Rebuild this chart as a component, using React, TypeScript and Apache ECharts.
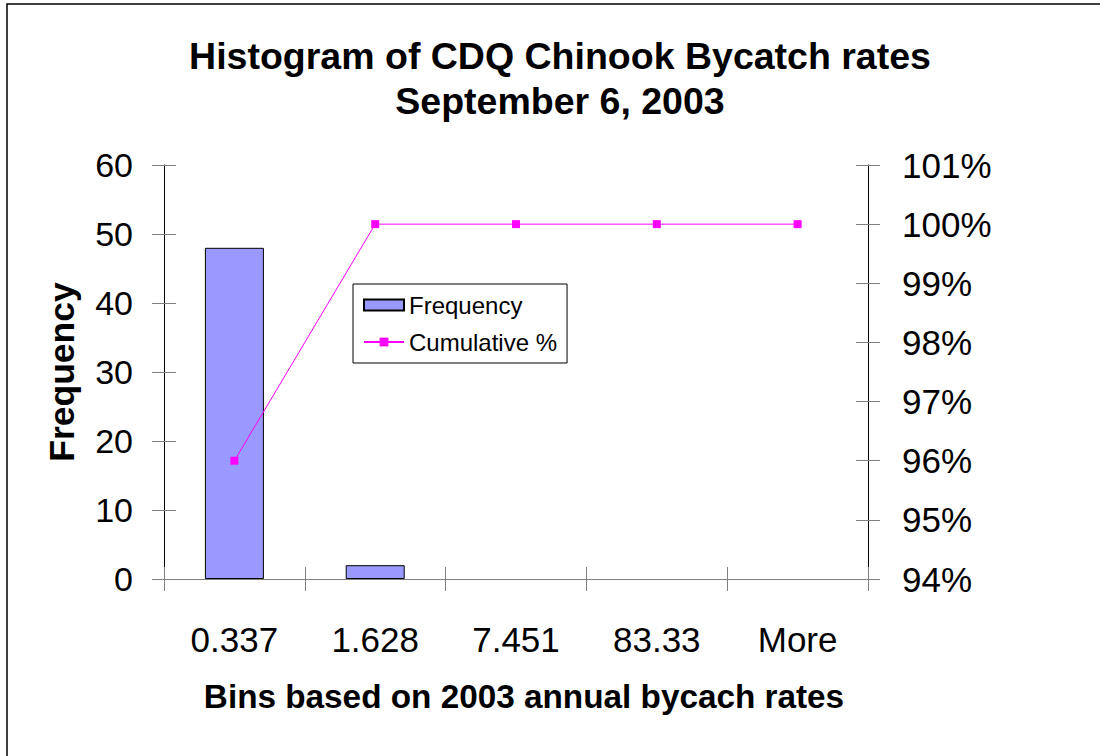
import React, { useEffect, useRef } from "react";
import * as echarts from "echarts";

const bins = ["0.337", "1.628", "7.451", "83.33", "More"];
const frequency = [48, 2, 0, 0, 0];
const cumulativePct = [96, 100, 100, 100, 100];
const titleText = "Histogram of CDQ Chinook Bycatch rates\nSeptember 6, 2003";
const xName = "Bins based on 2003 annual bycach rates";
const yName = "Frequency";

const FONT = 'Arial, "Liberation Sans", sans-serif';

export default function App() {
  const ref = useRef<HTMLDivElement>(null);
  useEffect(() => {
    if (!ref.current) return;
    const chart = echarts.init(ref.current, null, { renderer: "svg" });
    const tickGray = "#808080";
    const barData = frequency.map((v) =>
      v === 0 ? { value: v, itemStyle: { borderWidth: 0 } } : v
    );
    chart.setOption({
      animation: false,
      backgroundColor: "#ffffff",
      textStyle: { fontFamily: FONT },
      title: {
        text: titleText,
        left: 560,
        top: 33,
        padding: 0,
        textAlign: "center",
        textStyle: { fontFamily: FONT, fontSize: 37.5, fontWeight: "bold", color: "#000", lineHeight: 45 },
      },
      graphic: [
        {
          type: "rect",
          shape: { x: 7, y: 4, width: 1300, height: 1000 },
          style: { fill: "none", stroke: "#000", lineWidth: 1.5 },
          silent: true,
        },
      ],
      legend: {
        orient: "vertical",
        left: 353,
        top: 284,
        padding: [9, 10, 9, 10],
        itemGap: 13,
        itemWidth: 40,
        itemHeight: 11,
        borderColor: "#000",
        borderWidth: 1,
        backgroundColor: "#fff",
        textStyle: { fontFamily: FONT, fontSize: 24, color: "#000", lineHeight: 24 },
        data: [
          { name: "Frequency", icon: "rect" },
          { name: "Cumulative %" },
        ],
      },
      grid: { left: 164, right: 232, top: 165, bottom: 177, containLabel: false },
      xAxis: [
        {
          type: "category",
          data: bins,
          position: "bottom",
          name: xName,
          nameLocation: "middle",
          nameGap: 101,
          nameTextStyle: { fontFamily: FONT, fontSize: 33.3, fontWeight: "bold", color: "#000", padding: [0, 0, 0, 16] },
          axisLine: { lineStyle: { color: tickGray, width: 1 } },
          axisTick: { show: true, interval: 0, length: 12, lineStyle: { color: tickGray } },
          axisLabel: { fontFamily: FONT, fontSize: 35, color: "#000", margin: 43, interval: 0 },
        },
        {
          type: "category",
          data: bins,
          position: "bottom",
          axisLine: { show: false },
          axisTick: { show: true, inside: true, interval: 0, length: 12, lineStyle: { color: tickGray } },
          axisLabel: { show: false },
        },
      ],
      yAxis: [
        {
          type: "value",
          position: "left",
          min: 0,
          max: 60,
          interval: 10,
          name: yName,
          nameLocation: "middle",
          nameGap: 84,
          nameTextStyle: { fontFamily: FONT, fontSize: 35.5, fontWeight: "bold", color: "#000" },
          axisLine: { show: true, lineStyle: { color: "#000", width: 1 } },
          axisTick: { show: true, length: 12, lineStyle: { color: tickGray } },
          axisLabel: { fontFamily: FONT, fontSize: 34, color: "#000", margin: 31 },
          splitLine: { show: false },
        },
        {
          type: "value",
          position: "right",
          min: 94,
          max: 101,
          interval: 1,
          axisLine: { show: true, lineStyle: { color: "#000", width: 1 } },
          axisTick: { show: true, length: 12, lineStyle: { color: tickGray } },
          axisLabel: { fontFamily: FONT, fontSize: 35, color: "#000", margin: 34, formatter: "{value}%" },
          splitLine: { show: false },
        },
        {
          type: "value",
          position: "left",
          min: 0,
          max: 60,
          interval: 10,
          axisLine: { show: false },
          axisTick: { show: true, inside: true, length: 12, lineStyle: { color: tickGray } },
          axisLabel: { show: false },
          splitLine: { show: false },
        },
        {
          type: "value",
          position: "right",
          min: 94,
          max: 101,
          interval: 1,
          axisLine: { show: false },
          axisTick: { show: true, inside: true, length: 12, lineStyle: { color: tickGray } },
          axisLabel: { show: false },
          splitLine: { show: false },
        },
      ],
      series: [
        {
          name: "Frequency",
          type: "bar",
          xAxisIndex: 0,
          yAxisIndex: 0,
          data: barData,
          barWidth: 59,
          itemStyle: { color: "#9999FF", borderColor: "#000", borderWidth: 1 },
        },
        {
          name: "Cumulative %",
          type: "line",
          xAxisIndex: 0,
          yAxisIndex: 1,
          data: cumulativePct,
          symbol: "rect",
          symbolSize: 8,
          lineStyle: { color: "#FF00FF", width: 1 },
          itemStyle: { color: "#FF00FF" },
          z: 5,
        },
      ],
    });
    return () => chart.dispose();
  }, []);
  return (
    <div
      ref={ref}
      style={{ position: "absolute", left: 0, top: 0, width: 1100, height: 756, background: "#fff" }}
    />
  );
}
